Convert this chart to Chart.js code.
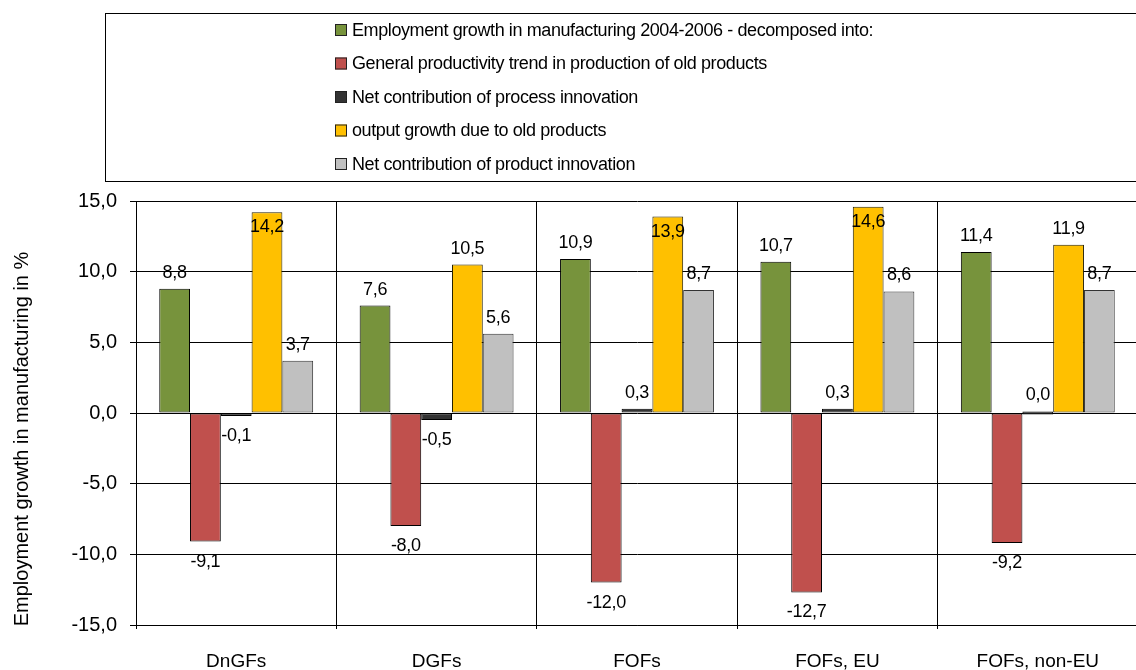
<!DOCTYPE html>
<html>
<head>
<meta charset="utf-8">
<script src="https://cdn.jsdelivr.net/npm/chart.js@4/dist/chart.umd.min.js"></script>
<style>
  html, body { margin: 0; padding: 0; overflow: hidden; background: #fff; }
  canvas { display: block; }
</style>
</head>
<body>
<canvas id="decomp" width="1140" height="670"></canvas>
<script>
const groups = ["DnGFs", "DGFs", "FOFs", "FOFs, EU", "FOFs, non-EU"];
const employment = [8.8, 7.6, 10.9, 10.7, 11.4];
const productivity = [-9.1, -8.0, -12.0, -12.7, -9.2];
const processInno = [-0.1, -0.5, 0.3, 0.3, 0.0];
const oldOutput = [14.2, 10.5, 13.9, 14.6, 11.9];
const productInno = [3.7, 5.6, 8.7, 8.6, 8.7];
const yTicks = [-15, -10, -5, 0, 5, 10, 15];

const seriesNames = [
  "Employment growth in manufacturing 2004-2006 - decomposed into:",
  "General productivity trend in production of old products",
  "Net contribution of process innovation",
  "output growth due to old products",
  "Net contribution of product innovation"
];
const yTitle = "Employment growth in manufacturing in %";

const fmt = v => v.toFixed(1).replace(".", ",");
const FONT = "'Liberation Sans', Arial, sans-serif";

// legend drawn as a boxed column above the plot, plus the rotated y title
const boxLegend = {
  id: "boxLegend",
  afterDraw(chart) {
    const ctx = chart.ctx;
    ctx.save();
    ctx.strokeStyle = "#000";
    ctx.lineWidth = 1;
    ctx.strokeRect(105.5, 13.5, 1100, 168);
    ctx.font = "18px " + FONT;
    ctx.letterSpacing = "-0.4px";
    ctx.textBaseline = "middle";
    chart.data.datasets.forEach((ds, i) => {
      const y = 30 + i * 33.5;
      ctx.fillStyle = ds.backgroundColor;
      ctx.fillRect(335, y - 6, 12, 12);
      ctx.strokeStyle = "#222";
      ctx.strokeRect(335.5, y - 5.5, 11, 11);
      ctx.fillStyle = "#000";
      ctx.fillText(ds.label, 352, y + 1);
    });

    ctx.translate(22, 439);
    ctx.rotate(-Math.PI / 2);
    ctx.font = "20px " + FONT;
    ctx.letterSpacing = "0px";
    ctx.textAlign = "center";
    ctx.fillText(yTitle, 0, 0);
    ctx.restore();
  }
};

// value labels: above positive bars, below negative ones, inside the tallest
const valueLabels = {
  id: "valueLabels",
  afterDatasetsDraw(chart) {
    const ctx = chart.ctx;
    ctx.save();
    ctx.font = "18px " + FONT;
    ctx.letterSpacing = "-0.3px";
    ctx.fillStyle = "#000";
    ctx.textAlign = "center";
    ctx.textBaseline = "middle";
    chart.data.datasets.forEach((ds, i) => {
      chart.getDatasetMeta(i).data.forEach((bar, j) => {
        const v = ds.data[j];
        let y;
        if (v >= 13.5) y = bar.y + 15;
        else if (v >= 0) y = Math.min(bar.y, bar.base) - 16;
        else y = Math.max(bar.y, bar.base) + 20;
        ctx.fillText(fmt(v), bar.x, y);
      });
    });
    ctx.restore();
  }
};

const border = "#000";
new Chart(document.getElementById("decomp"), {
  type: "bar",
  data: {
    labels: groups,
    datasets: [
      { label: seriesNames[0], data: employment, backgroundColor: "#77933C", borderColor: border, borderWidth: 1 },
      { label: seriesNames[1], data: productivity, backgroundColor: "#C0504D", borderColor: border, borderWidth: 1 },
      { label: seriesNames[2], data: processInno, backgroundColor: "#333333", borderColor: border, borderWidth: 1, minBarLength: 3 },
      { label: seriesNames[3], data: oldOutput, backgroundColor: "#FFC000", borderColor: "#262000", borderWidth: 1 },
      { label: seriesNames[4], data: productInno, backgroundColor: "#C0C0C0", borderColor: "#333", borderWidth: 1 }
    ]
  },
  options: {
    responsive: false,
    animation: false,
    layout: { padding: { top: 201, right: 2, left: 0, bottom: 0 } },
    datasets: { bar: { categoryPercentage: 0.768, barPercentage: 1.0, borderSkipped: false } },
    plugins: { legend: { display: false }, tooltip: { enabled: false } },
    scales: {
      x: {
        grid: { offset: true, color: "#000", lineWidth: 1, tickLength: 4, drawTicks: true },
        border: { color: "#000" },
        ticks: { color: "#000", font: { family: FONT, size: 19 }, padding: 21 },
        afterFit(scale) { scale.height = 45; }
      },
      y: {
        min: -15,
        max: 15,
        afterBuildTicks(scale) { scale.ticks = yTicks.map(v => ({ value: v })); },
        grid: { color: "#000", lineWidth: 1, tickLength: 6 },
        border: { color: "#000" },
        ticks: { color: "#000", font: { family: FONT, size: 20 }, padding: 13, callback: v => fmt(v) },
        afterFit(scale) { scale.width = 136; }
      }
    }
  },
  plugins: [boxLegend, valueLabels]
});
</script>
</body>
</html>
